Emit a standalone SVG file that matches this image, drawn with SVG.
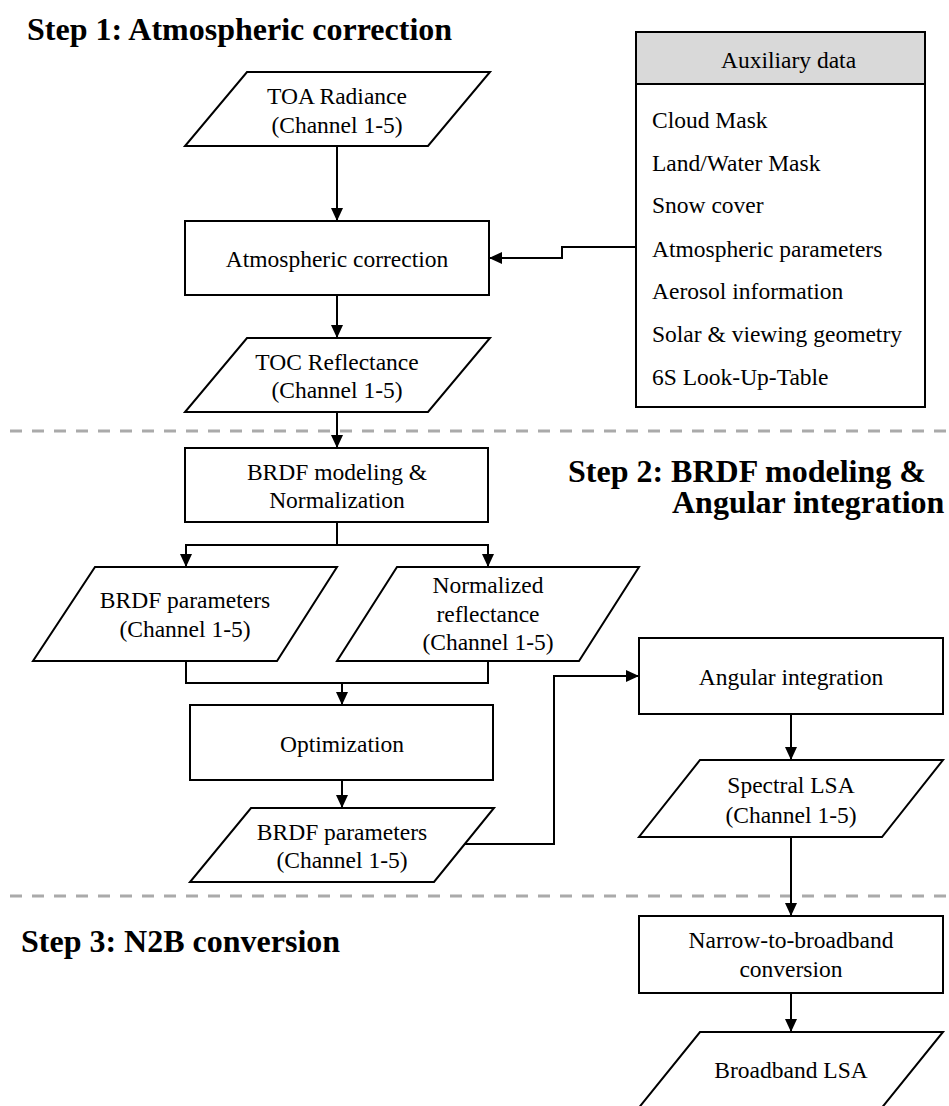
<svg xmlns="http://www.w3.org/2000/svg" width="949" height="1106" viewBox="0 0 949 1106">
<style>
.shape{fill:#ffffff;stroke:#000000;stroke-width:2}
.hdr{fill:#d9d9d9;stroke:#000000;stroke-width:2}
.t{font-family:"Liberation Serif","Times New Roman",serif;font-size:23.5px;fill:#000000}
.c{text-anchor:middle}
.title{font-family:"Liberation Serif","Times New Roman",serif;font-size:32px;font-weight:bold;fill:#000000}
.conn{fill:none;stroke:#000000;stroke-width:2}
.arr{marker-end:url(#ah)}
.dash{fill:none;stroke:#aaaaaa;stroke-width:3;stroke-dasharray:12 10}
</style>
<defs>
<marker id="ah" markerUnits="userSpaceOnUse" markerWidth="14" markerHeight="12" refX="13" refY="6" orient="auto">
<path d="M0,0 L13,6 L0,12 z" fill="#000000"/>
</marker>
</defs>
<rect width="949" height="1106" fill="#ffffff"/>

<g id="separators">
<line class="dash" x1="10" y1="431" x2="949" y2="431"/>
<line class="dash" x1="10" y1="896" x2="949" y2="896"/>
</g>

<g id="titles">
<text class="title" x="27" y="40">Step 1: Atmospheric correction</text>
<text class="title"><tspan x="568" y="482">Step 2: BRDF modeling &amp;</tspan><tspan x="672" y="513">Angular integration</tspan></text>
<text class="title" x="21" y="952">Step 3: N2B conversion</text>
</g>

<g id="connectors">
<line class="conn arr" x1="337" y1="146" x2="337" y2="221"/>
<polyline class="conn arr" points="636,247 562,247 562,258 489,258"/>
<line class="conn arr" x1="337" y1="295" x2="337" y2="338"/>
<line class="conn arr" x1="337" y1="412" x2="337" y2="448"/>
<line class="conn" x1="337" y1="522" x2="337" y2="545"/>
<line class="conn" x1="185" y1="545" x2="489" y2="545"/>
<line class="conn arr" x1="186" y1="544" x2="186" y2="567"/>
<line class="conn arr" x1="488" y1="544" x2="488" y2="567"/>
<polyline class="conn" points="186,661 186,683 488,683 488,661"/>
<line class="conn arr" x1="342" y1="683" x2="342" y2="705"/>
<line class="conn arr" x1="342" y1="780" x2="342" y2="808"/>
<polyline class="conn arr" points="465,844 554,844 554,676 639,676"/>
<line class="conn arr" x1="791" y1="714" x2="791" y2="760"/>
<line class="conn arr" x1="791" y1="837" x2="791" y2="916"/>
<line class="conn arr" x1="791" y1="993" x2="791" y2="1032"/>
</g>

<g id="aux">
<rect class="shape" x="636" y="32" width="289" height="375"/>
<rect class="hdr" x="636" y="32" width="289" height="52"/>
<text class="t" x="721" y="68">Auxiliary data</text>
<text class="t" x="652" y="128">Cloud Mask</text>
<text class="t" x="652" y="171">Land/Water Mask</text>
<text class="t" x="652" y="213">Snow cover</text>
<text class="t" x="652" y="257">Atmospheric parameters</text>
<text class="t" x="652" y="299">Aerosol information</text>
<text class="t" x="652" y="342">Solar &amp; viewing geometry</text>
<text class="t" x="652" y="385">6S Look-Up-Table</text>
</g>

<g id="toa">
<polygon class="shape" points="247,72 490,72 428,146 185,146"/>
<text class="t c" x="337" y="104">TOA Radiance</text>
<text class="t c" x="337" y="133">(Channel 1-5)</text>
</g>

<g id="atmcorr">
<rect class="shape" x="185" y="221" width="304" height="74"/>
<text class="t c" x="337" y="267">Atmospheric correction</text>
</g>

<g id="toc">
<polygon class="shape" points="247,338 490,338 428,412 185,412"/>
<text class="t c" x="337" y="370">TOC Reflectance</text>
<text class="t c" x="337" y="398">(Channel 1-5)</text>
</g>

<g id="brdfmod">
<rect class="shape" x="185" y="448" width="303" height="74"/>
<text class="t c" x="337" y="480">BRDF modeling &amp;</text>
<text class="t c" x="337" y="508">Normalization</text>
</g>

<g id="brdfparams1">
<polygon class="shape" points="95,567 337,567 277,661 33,661"/>
<text class="t c" x="185" y="608">BRDF parameters</text>
<text class="t c" x="185" y="637">(Channel 1-5)</text>
</g>

<g id="normrefl">
<polygon class="shape" points="397,567 639,567 579,661 337,661"/>
<text class="t c" x="488" y="593">Normalized</text>
<text class="t c" x="488" y="622">reflectance</text>
<text class="t c" x="488" y="650">(Channel 1-5)</text>
</g>

<g id="optim">
<rect class="shape" x="190" y="705" width="303" height="75"/>
<text class="t c" x="342" y="752">Optimization</text>
</g>

<g id="brdfparams2">
<polygon class="shape" points="251,808 494,808 434,882 190,882"/>
<text class="t c" x="342" y="840">BRDF parameters</text>
<text class="t c" x="342" y="868">(Channel 1-5)</text>
</g>

<g id="angint">
<rect class="shape" x="639" y="638" width="304" height="76"/>
<text class="t c" x="791" y="685">Angular integration</text>
</g>

<g id="spectral">
<polygon class="shape" points="700,760 943,760 882,837 639,837"/>
<text class="t c" x="791" y="793">Spectral LSA</text>
<text class="t c" x="791" y="823">(Channel 1-5)</text>
</g>

<g id="n2b">
<rect class="shape" x="639" y="916" width="304" height="77"/>
<text class="t c" x="791" y="948">Narrow-to-broadband</text>
<text class="t c" x="791" y="977">conversion</text>
</g>

<g id="broadband">
<polygon class="shape" points="700,1032 943,1032 880,1110 637,1110"/>
<text class="t c" x="791" y="1078">Broadband LSA</text>
</g>
</svg>
